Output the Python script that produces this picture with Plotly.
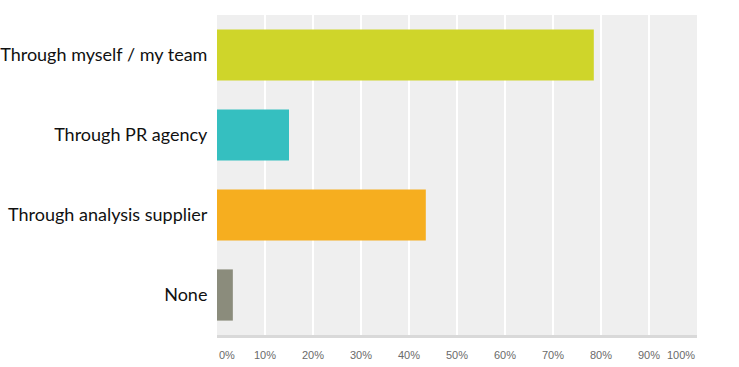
import plotly.graph_objects as go

categories = ["Through myself / my team", "Through PR agency", "Through analysis supplier", "None"]
values = [78.5, 15.0, 43.5, 3.3]
colors = ["#cfd52a", "#35bfc0", "#f6ae1f", "#8b8c7c"]
tick_vals = [0, 10, 20, 30, 40, 50, 60, 70, 80, 90, 100]
tick_labels = ["0%", "10%", "20%", "30%", "40%", "50%", "60%", "70%", "80%", "90%", "100%"]

fig = go.Figure(go.Bar(
    x=values, y=categories, orientation="h",
    marker=dict(color=colors, line=dict(width=0)),
    width=0.64, hoverinfo="skip",
))

annotations = []
for i, (v, t) in enumerate(zip(tick_vals, tick_labels)):
    anchor = "left" if i == 0 else ("right" if i == len(tick_vals) - 1 else "center")
    annotations.append(dict(
        x=v, y=0, xref="x", yref="paper", text=t, showarrow=False,
        xanchor=anchor, yanchor="middle", yshift=-20,
        font=dict(family="Liberation Sans", size=11, color="#6a6a6a"),
    ))

fig.update_layout(
    width=739, height=367,
    margin=dict(l=217, r=42, t=15, b=32, autoexpand=False),
    paper_bgcolor="white", plot_bgcolor="#efefef",
    showlegend=False,
    annotations=annotations,
    xaxis=dict(
        range=[0, 100], tickvals=tick_vals, showticklabels=False,
        showgrid=True, gridcolor="white", gridwidth=2,
        zeroline=False, showline=True, linecolor="#d9d9d9", linewidth=3,
        fixedrange=True, automargin=False,
    ),
    yaxis=dict(
        autorange="reversed", showgrid=False, zeroline=False,
        ticks="outside", ticklen=5, tickcolor="rgba(0,0,0,0)",
        tickfont=dict(family="Lato", size=18, color="#111111"),
        fixedrange=True, automargin=False,
    ),
)

fig.write_html("out.html", config={"displayModeBar": False},
               post_script="document.body.style.margin='0';")
